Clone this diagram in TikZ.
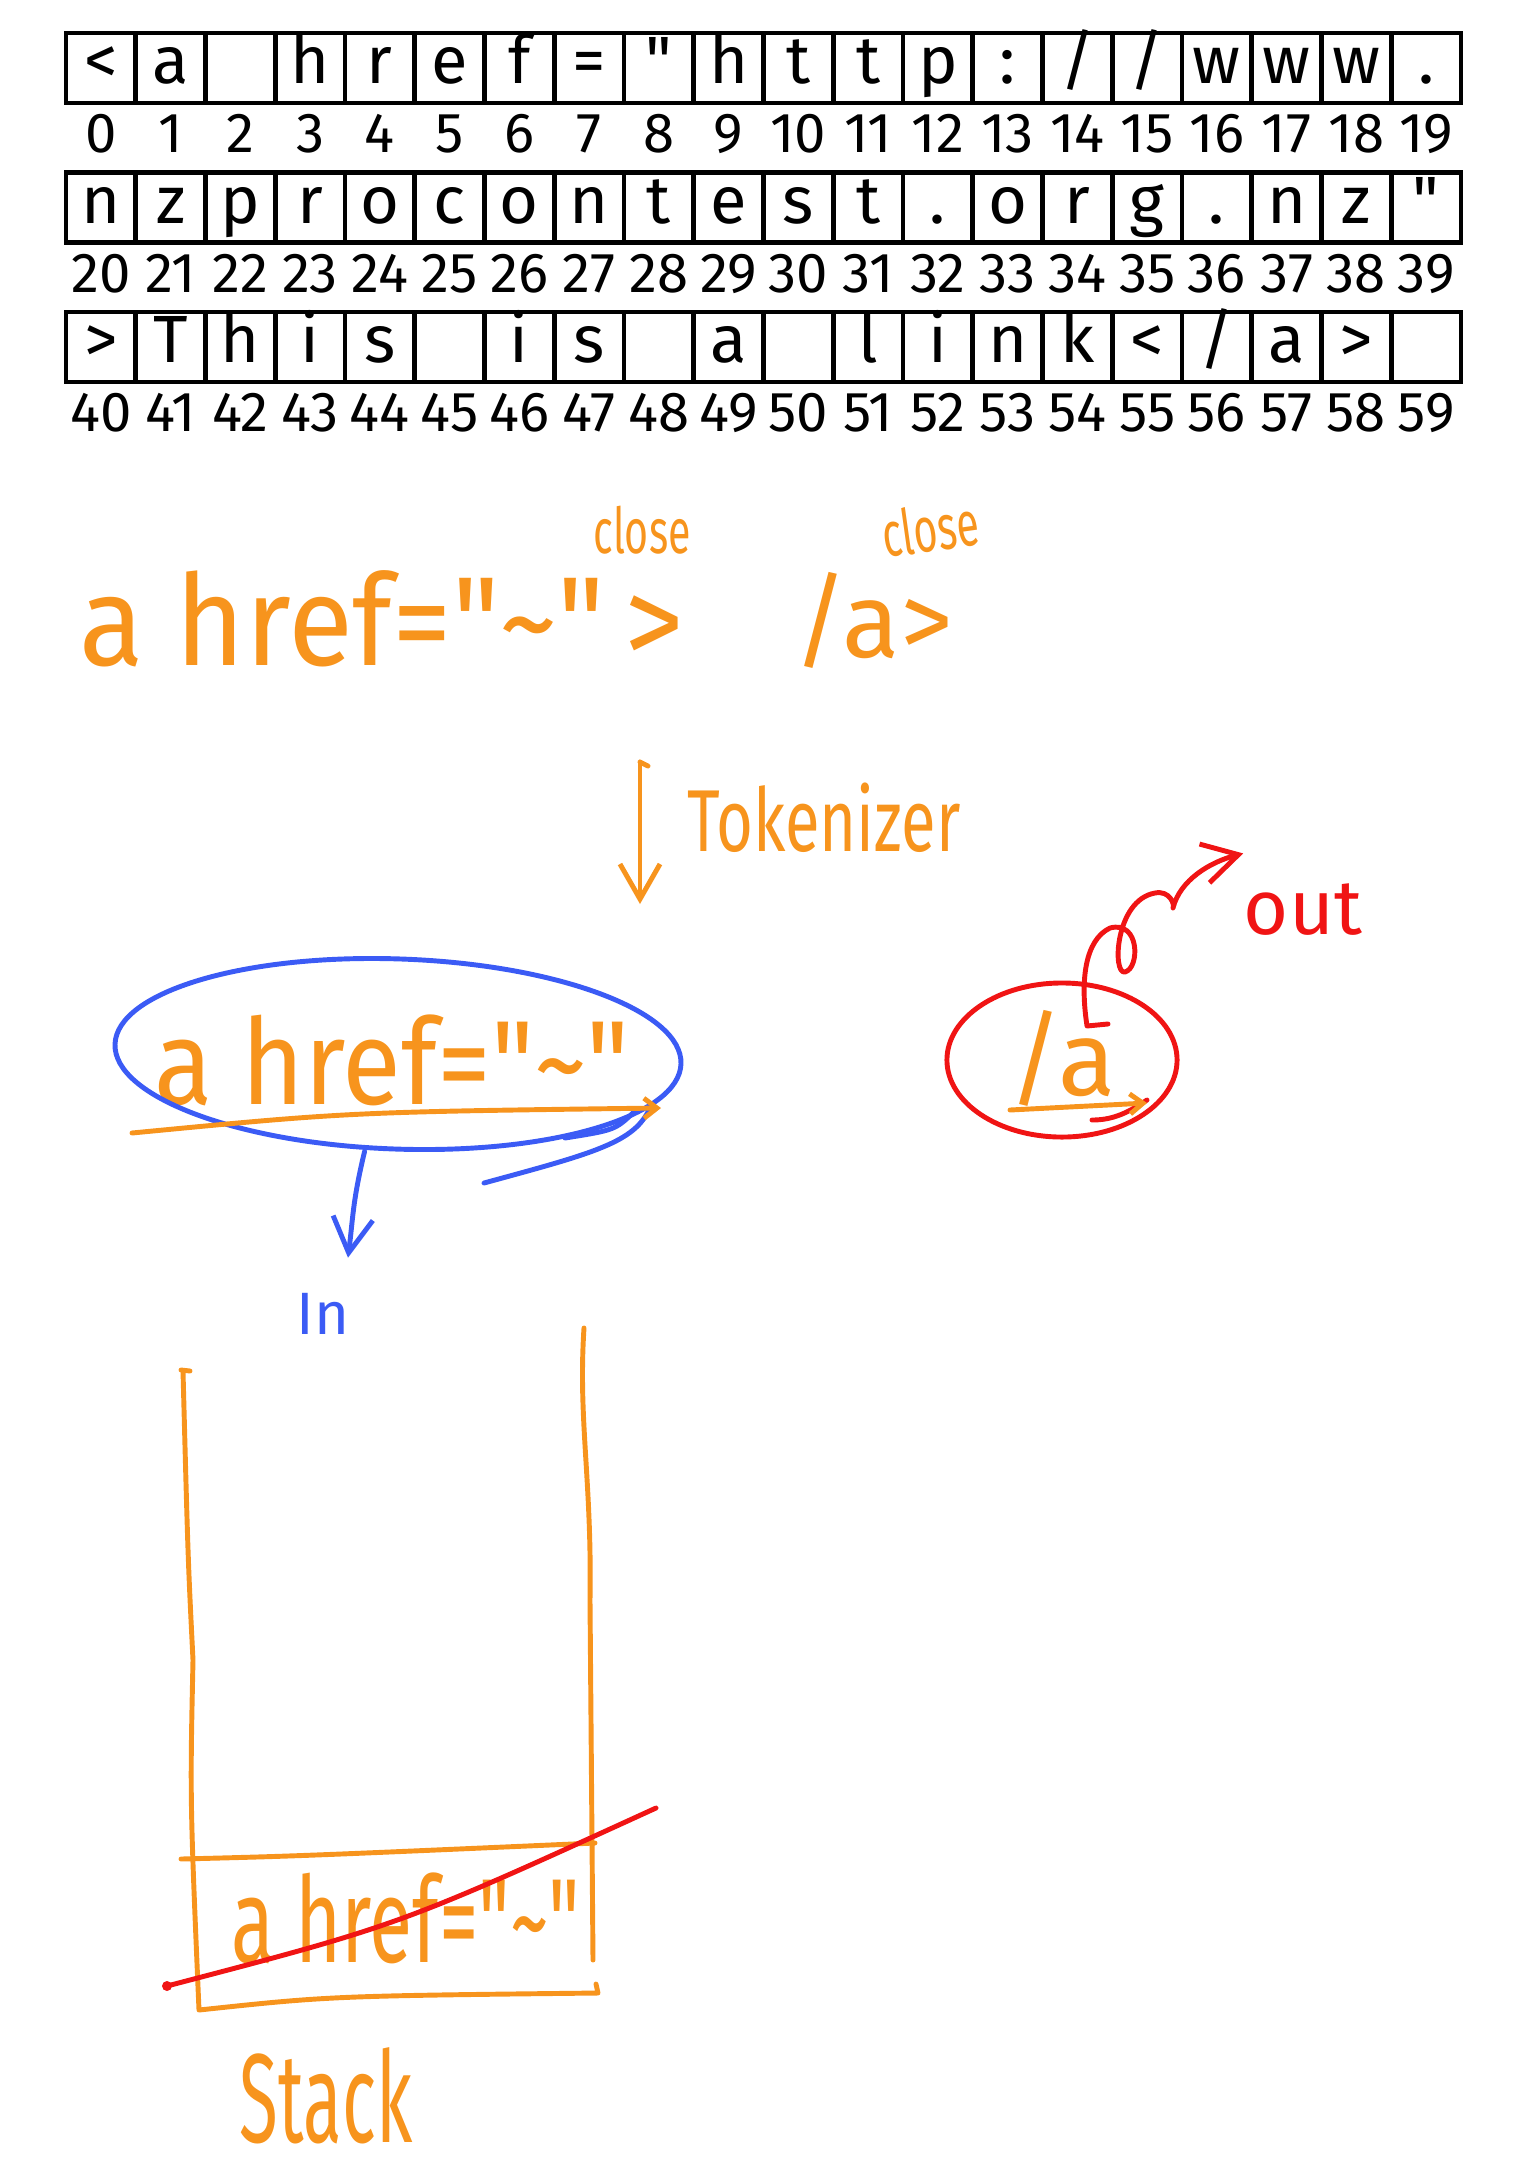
\documentclass[tikz,border=0pt]{standalone}
\usepackage{fontspec}
\setmainfont{Fira Sans}
\usetikzlibrary{positioning,arrows.meta,shapes.geometric}

\definecolor{penorange}{RGB}{247,148,29}
\definecolor{penblue}{RGB}{59,91,245}
\definecolor{penred}{RGB}{240,20,20}

\newcommand{\squeeze}[2]{\scalebox{#1}[1]{#2}}

\tikzset{
	cell/.style={draw, line width=1.3pt, minimum width=0.6975cm, minimum height=0.70cm,
		text height=13pt, text depth=4pt, inner sep=0pt, outer sep=0pt, font=\fontsize{19}{20}\selectfont},
	idx/.style={inner sep=0pt, font=\fontsize{16}{18}\selectfont},
	orangeink/.style={penorange, line width=1.4pt, line cap=round, line join=round},
	blueink/.style={penblue, line width=1.4pt, line cap=round, line join=round},
	redink/.style={penred, line width=1.4pt, line cap=round, line join=round},
	handtext/.style={inner sep=0pt, text=penorange},
	barb/.style={-{Straight Barb[length=0.35cm, width=0.4cm]}},
	smallbarb/.style={-{Straight Barb[length=0.13cm, width=0.2cm]}},
}

\begin{document}
\begin{tikzpicture}[x=0.01cm, y=-0.01cm]
	\useasboundingbox (0,0) rectangle (1531,2181);

	% character grid with indices
	\foreach \ch [count=\i from 0] in {{<},{a},{},{h},{r},{e},{f},{=},{\textquotedbl},{h},{t},{t},{p},{:},{/},{/},{w},{w},{w},{.},
		{n},{z},{p},{r},{o},{c},{o},{n},{t},{e},{s},{t},{.},{o},{r},{g},{.},{n},{z},{\textquotedbl},
		{>},{T},{h},{i},{s},{},{i},{s},{},{a},{},{l},{i},{n},{k},{<},{/},{a},{>},{}}{
		\pgfmathtruncatemacro{\row}{\i/20}
		\pgfmathtruncatemacro{\col}{\i-20*\row}
		\node[cell] (c\i) at ({66+69.75*(\col+0.5)}, {68+139.5*\row}) {\ch};
		\node[idx, below=0.11cm of c\i] (n\i) {\i};
	}

	% tags found in the text
	\node[handtext, font=\fontsize{36}{40}\selectfont, anchor=base] (opentag) at (382,665) {\squeeze{0.94}{a href=\textquotedbl\textasciitilde\textquotedbl\,>}};
	\node[handtext, font=\fontsize{18}{20}\selectfont] (closeA) at (642,530) {\squeeze{0.65}{close}};
	\node[handtext, font=\fontsize{30}{32}\selectfont, anchor=base] (closetag) at (873,657) {/a>};
	\node[handtext, font=\fontsize{18}{20}\selectfont, rotate=8] (closeB) at (930,528) {\squeeze{0.65}{close}};

	% tokenizer step
	\node[handtext, font=\fontsize{25}{28}\selectfont] (tokenizer) at (824,818) {\squeeze{0.72}{Tokenizer}};
	\coordinate (tokfrom) at (640,762);
	\coordinate (tokto) at (640,904);
	\draw[orangeink] (tokfrom) -- (648,766);
	\draw[orangeink, barb] (tokfrom) -- (tokto);

	% open tag goes in
	\node[handtext, font=\fontsize{34}{36}\selectfont] (intag) at (392,1060) {\squeeze{0.9}{a href=\textquotedbl\textasciitilde\textquotedbl}};
	\node[draw=penblue, line width=1.4pt, ellipse, minimum width=5.66cm, minimum height=1.9cm, rotate=-2] (inloop) at (398,1054) {};
	\draw[blueink] (634,1112) .. controls (615,1130) .. (565,1138);
	\draw[blueink] (inloop.-10) .. controls +(-15,35) and +(110,-30) .. (484,1183);
	\draw[orangeink, smallbarb] (132,1133) .. controls (350,1112) .. (661,1108);
	\node[text=penblue, font=\fontsize{17}{18}\selectfont, inner sep=0pt] (inlbl) at (323,1314) {In};
	\draw[blueink, barb] ([xshift=-0.3cm]inloop.south) .. controls +(-12,50) and +(5,-40) .. ([xshift=0.25cm, yshift=0.35cm]inlbl.north);

	% close tag goes out
	\node[handtext, font=\fontsize{30}{32}\selectfont] (outtag) at (1062,1058) {/a};
	\node[draw=penred, line width=1.4pt, ellipse, minimum width=2.3cm, minimum height=1.54cm] (outloop) at (1062,1060) {};
	\draw[redink] (1147,1100) .. controls (1125,1115) and (1110,1120) .. (1092,1120);
	\draw[orangeink, smallbarb] (1010,1110) -- (1147,1103);
	\node[text=penred, font=\fontsize{22}{24}\selectfont, inner sep=0pt] (outlbl) at (1303,910) {out};
	\draw[redink, barb] ([xshift=0.46cm, yshift=0.36cm]outloop.center) -- ++(-21,2)
		.. controls (1080,980) and (1085,940) .. (1110,928)
		.. controls (1140,920) and (1140,968) .. (1125,972)
		.. controls (1112,975) and (1115,900) .. (1155,893)
		.. controls (1170,890) and (1175,905) .. (1173,908)
		.. controls (1180,880) and (1210,862) .. ([yshift=0.3cm]outlbl.north west);

	% stack
	\draw[orangeink] (181,1370) -- (190,1371);
	\draw[orangeink] (183,1371) .. controls (188,1560) .. (193,1660) .. controls (190,1800) .. (199,2010)
		.. controls (330,1996) .. (598,1993) -- (596,1984);
	\draw[orangeink] (584,1328) .. controls (578,1420) and (592,1480) .. (590,1600) -- (593,1960);
	\draw[orangeink] (181,1859) .. controls (300,1856) .. (595,1843);
	\node[handtext, font=\fontsize{34}{36}\selectfont] (stacked) at (406,1918) {\squeeze{0.66}{a href=\textquotedbl\textasciitilde\textquotedbl}};
	\draw[redink] (167,1986) .. controls (400,1925) .. (656,1808);
	\fill[penred] (167,1986) circle (0.05cm);
	\node[handtext, font=\fontsize{36}{40}\selectfont] (stacklbl) at (326,2096) {\squeeze{0.56}{Stack}};
\end{tikzpicture}
\end{document}
